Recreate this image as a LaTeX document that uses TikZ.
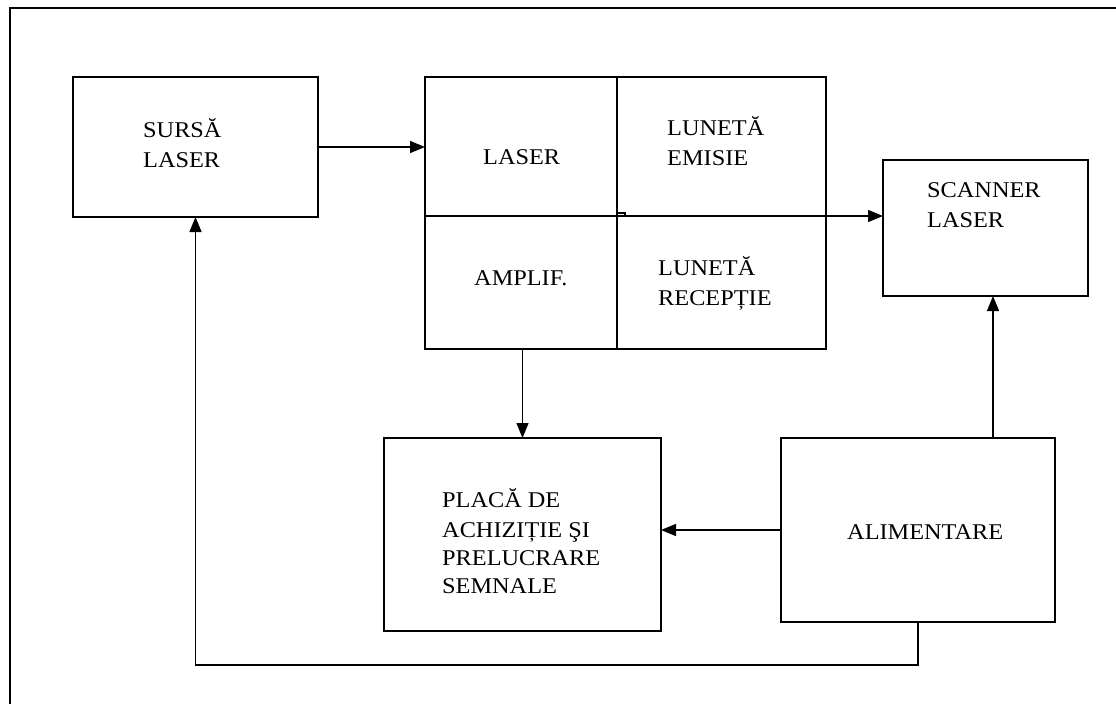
\documentclass[tikz,border=0pt]{standalone}
\usepackage{fontspec}
\setmainfont[FakeStretch=1.08]{Liberation Serif}
\usetikzlibrary{arrows.meta}
\begin{document}
\begin{tikzpicture}[x=1pt,y=-1pt,
  blk/.style={draw=black,line width=1.6pt,minimum width=#1,inner sep=0pt,outer sep=0pt},
  lbl/.style={anchor=base west,inner sep=0pt,font=\fontsize{22.5}{30}\selectfont},
  conn/.style={line width=1.4pt,-{Triangle[length=15pt,width=12pt]}},
  plain/.style={line width=1.4pt}]
\useasboundingbox (0,0) rectangle (1116,704);
% frame
\draw[line width=1.6pt] (1116,8) -- (10,8) -- (10,704);
% boxes
\node[blk=245pt,minimum height=140pt] (src) at (195.5,147) {};
\node[blk=192pt,minimum height=139pt] (laser) at (521,146.5) {};
\node[blk=209pt,minimum height=139pt] (emisie) at (721.5,146.5) {};
\node[blk=192pt,minimum height=133pt] (amplif) at (521,282.5) {};
\node[blk=209pt,minimum height=133pt] (receptie) at (721.5,282.5) {};
\node[blk=205pt,minimum height=136pt] (scanner) at (985.5,228) {};
\node[blk=277pt,minimum height=193pt] (placa) at (522.5,534.5) {};
\node[blk=274pt,minimum height=184pt] (alim) at (918,530) {};
% labels
\node[lbl] (t1a) at (143,137) {SURSĂ};
\node[lbl] (t1b) at (143,167) {LASER};
\node[lbl] (t2) at (483,164) {LASER};
\node[lbl] (t3a) at (667,135) {LUNETĂ};
\node[lbl] (t3b) at (667,165) {EMISIE};
\node[lbl] (t4) at (474,285) {AMPLIF.};
\node[lbl] (t5a) at (658,275) {LUNETĂ};
\node[lbl] (t5b) at (658,305) {RECEPȚIE};
\node[lbl] (t6a) at (927,197) {SCANNER};
\node[lbl] (t6b) at (927,227) {LASER};
\node[lbl] (t7a) at (442,507) {PLACĂ DE};
\node[lbl] (t7b) at (442,537) {ACHIZIȚIE ŞI};
\node[lbl] (t7c) at (442,565) {PRELUCRARE};
\node[lbl] (t7d) at (442,593) {SEMNALE};
\node[lbl] (t8) at (847,539) {ALIMENTARE};
% small stub at divider
\draw[line width=1.2pt] (laser.south east) -- ++(0,-3) -- ++(8,0) -- ++(0,3);
% connectors
\coordinate (sx) at (993,400);
\draw[conn] (src.east) -- (laser.west |- src.east);
\draw[conn] (emisie.south east) -- (scanner.west |- emisie.south east);
\draw[conn] (placa.north |- amplif.south) -- (placa.north);
\draw[conn] (sx |- alim.north) -- (sx |- scanner.south);
\draw[conn] (alim.west) -- (alim.west -| placa.east);
\draw[conn] (alim.south) -- ++(0,43) -| (src.south);
\end{tikzpicture}
\end{document}
